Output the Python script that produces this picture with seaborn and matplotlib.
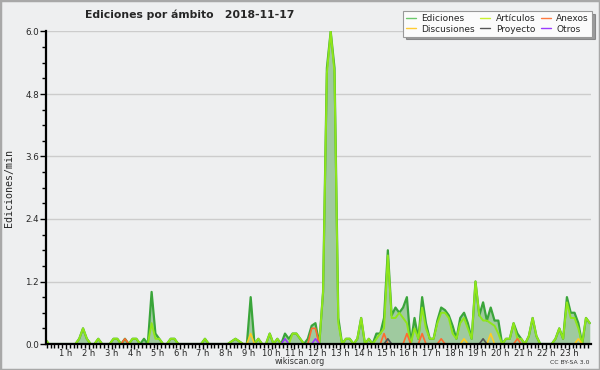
import matplotlib
matplotlib.use("Agg")
import matplotlib.pyplot as plt
from matplotlib.lines import Line2D
from matplotlib.patches import Rectangle
from matplotlib.ticker import MultipleLocator
import numpy as np
import pandas as pd
import seaborn as sns

# ediciones por minuto, tramos de 10 minutos (144 por dia)
ediciones = [
    0.1, 0, 0, 0, 0, 0, 0, 0, 0, 0.1, 0.3, 0.1,
    0, 0, 0.1, 0, 0, 0, 0.1, 0.1, 0, 0.1, 0, 0.1,
    0.1, 0, 0.1, 0, 1.0, 0.2, 0.1, 0, 0, 0.1, 0.1, 0,
    0, 0, 0, 0, 0, 0, 0.1, 0, 0, 0, 0, 0,
    0, 0.05, 0.1, 0.05, 0, 0, 0.9, 0, 0.1, 0, 0, 0.2,
    0, 0.1, 0, 0.2, 0.1, 0.2, 0.2, 0.1, 0, 0.1, 0.35, 0.4,
    0, 1.0, 5.3, 6.0, 5.3, 0.5, 0, 0.1, 0.1, 0, 0.1, 0.5,
    0, 0.1, 0, 0.2, 0.2, 0.5, 1.8, 0.55, 0.7, 0.6, 0.7, 0.9,
    0, 0.5, 0.1, 0.9, 0.4, 0.1, 0.1, 0.45, 0.7, 0.65, 0.55, 0.35,
    0.1, 0.5, 0.6, 0.4, 0.1, 1.2, 0.55, 0.8, 0.45, 0.7, 0.45, 0.45,
    0, 0.1, 0.1, 0.4, 0.2, 0.1, 0, 0.15, 0.5, 0.15, 0, 0,
    0, 0, 0.1, 0.3, 0.1, 0.9, 0.6, 0.6, 0.4, 0, 0.5, 0.4,
]
articulos = [
    0.1, 0, 0, 0, 0, 0, 0, 0, 0, 0.1, 0.3, 0.1,
    0, 0, 0.1, 0, 0, 0, 0.1, 0.1, 0, 0, 0, 0.1,
    0.1, 0, 0, 0, 0.4, 0.1, 0.1, 0, 0, 0.1, 0.1, 0,
    0, 0, 0, 0, 0, 0, 0.1, 0, 0, 0, 0, 0,
    0, 0.05, 0.1, 0.05, 0, 0, 0, 0, 0.1, 0, 0, 0.2,
    0, 0.1, 0, 0, 0, 0.2, 0.2, 0.1, 0, 0, 0, 0,
    0, 1.0, 5.2, 6.0, 5.2, 0.4, 0, 0.1, 0.1, 0, 0.1, 0.5,
    0, 0.1, 0, 0.1, 0.2, 0.3, 1.7, 0.5, 0.5, 0.6, 0.5, 0.4,
    0, 0.3, 0.1, 0.7, 0.3, 0.1, 0.1, 0.4, 0.6, 0.6, 0.5, 0.2,
    0.1, 0.4, 0.5, 0.3, 0.1, 1.2, 0.55, 0.45, 0.45, 0.4, 0.35, 0.2,
    0, 0.1, 0.1, 0.4, 0.1, 0.1, 0, 0.15, 0.5, 0.15, 0, 0,
    0, 0, 0.1, 0.3, 0.1, 0.8, 0.5, 0.5, 0.3, 0, 0.5, 0.4,
]
# series pequenas: tramo -> valor
anexos_tramo = [21, 70, 71, 89, 95, 99, 104, 124]
anexos_valor = [0.1, 0.3, 0.3, 0.2, 0.2, 0.2, 0.1, 0.1]
discusiones_tramo = [54, 110, 117, 140]
discusiones_valor = [0.2, 0.1, 0.2, 0.1]
proyecto_tramo = [90, 115]
proyecto_valor = [0.1, 0.1]
otros_tramo = [63, 71]
otros_valor = [0.1, 0.1]

horas = list(range(1, 24))
yticks = [0.0, 1.2, 2.4, 3.6, 4.8, 6.0]


def serie(tramos, valores):
    s = np.zeros(len(ediciones))
    s[tramos] = valores
    return s


t = (np.arange(len(ediciones)) + 0.5) / 6
df = pd.DataFrame({
    "t": t,
    "Ediciones": ediciones,
    "Artículos": articulos,
    "Anexos": serie(anexos_tramo, anexos_valor),
    "Discusiones": serie(discusiones_tramo, discusiones_valor),
    "Proyecto": serie(proyecto_tramo, proyecto_valor),
    "Otros": serie(otros_tramo, otros_valor),
})

bg = "#eeeff0"
sns.set_theme(style="white")
plt.rcParams["font.family"] = ["DejaVu Sans"]

fig = plt.figure(figsize=(6, 3.7), dpi=100, facecolor=bg)
ax = fig.add_axes([46 / 600, 26 / 370, 545 / 600, 312.5 / 370])
ax.set_facecolor(bg)

ax.fill_between(df["t"], 0, df["Ediciones"], color="#9fca9f", lw=0, zorder=1)
sns.lineplot(data=df, x="t", y="Ediciones", ax=ax, color="#3aa53a", lw=1.6, zorder=3)
sns.lineplot(data=df, x="t", y="Artículos", ax=ax, color="#8fe61a", lw=1.4, zorder=4)
otras = [("Anexos", "#ff6a30"), ("Discusiones", "#ffcc22"),
         ("Proyecto", "#555555"), ("Otros", "#9a3cff")]
for col, c in otras:
    sns.lineplot(data=df, x="t", y=col, ax=ax, color=c, lw=1.2, zorder=5)

ax.set_xlim(0.13, 23.97)
ax.set_ylim(0, 6.0)
ax.set_xticks(horas)
ax.set_xticklabels([f"{h} h" for h in horas], fontsize=6)
ax.xaxis.set_minor_locator(MultipleLocator(1 / 6))
ax.set_yticks(yticks)
ax.set_yticklabels([f"{v:.1f}" for v in yticks], fontsize=6.3)
ax.yaxis.set_minor_locator(MultipleLocator(0.3))
ax.tick_params(axis="both", which="both", bottom=True, left=True, direction="out",
               color="black", width=1)
ax.tick_params(axis="x", which="major", length=3.5, pad=0)
ax.tick_params(axis="x", which="minor", length=3)
ax.tick_params(axis="y", which="major", length=4, pad=1)
ax.tick_params(axis="y", which="minor", length=3)
ax.grid(axis="y", which="major", color="#cccccc", lw=1)
ax.set_axisbelow(True)

for s in ["top", "right"]:
    ax.spines[s].set_visible(False)
for s in ["left", "bottom"]:
    ax.spines[s].set_color("black")
    ax.spines[s].set_linewidth(1.6)
    ax.spines[s].set_zorder(6)

ax.set_xlabel("")
ax.set_ylabel("Ediciones/min", fontsize=7.2, family="DejaVu Sans Mono", labelpad=8)

# leyenda
colores = {"Ediciones": "#6cc86c", "Artículos": "#c8f030", "Anexos": "#ff7a40",
           "Discusiones": "#ffcc33", "Proyecto": "#555555", "Otros": "#9a3cff"}
orden = ["Ediciones", "Discusiones", "Artículos", "Proyecto", "Anexos", "Otros"]
handles = [Line2D([0], [0], color=colores[n], lw=1) for n in orden]
leg = fig.legend(handles, orden, ncol=3, loc="upper right",
                 bbox_to_anchor=(592 / 600, 1 - 11 / 370), borderaxespad=0,
                 fontsize=6.5, frameon=True, fancybox=False, shadow=True,
                 handlelength=1.1, handletextpad=0.6, columnspacing=0.6,
                 borderpad=0.35, labelspacing=0.15)
leg.get_frame().set_facecolor("#fbfbfb")
leg.get_frame().set_edgecolor("#999999")
leg.get_frame().set_linewidth(0.8)

fig.text(85 / 600, 1 - 15 / 370, "Ediciones por ámbito   2018-11-17",
         ha="left", va="center", fontsize=7.8, fontweight="bold")
fig.text(300 / 600, 1 - 362 / 370, "wikiscan.org", ha="center", va="center",
         fontsize=5.8, color="#333333")
fig.text(590 / 600, 1 - 362 / 370, "CC BY-SA 3.0", ha="right", va="center",
         fontsize=4.4, color="#333333")

fig.patches.append(Rectangle((0, 0), 1, 1, transform=fig.transFigure, fill=False,
                             edgecolor="#a8a8a8", lw=2.5, zorder=10))

fig.savefig("out.png", dpi=100, facecolor=bg)
